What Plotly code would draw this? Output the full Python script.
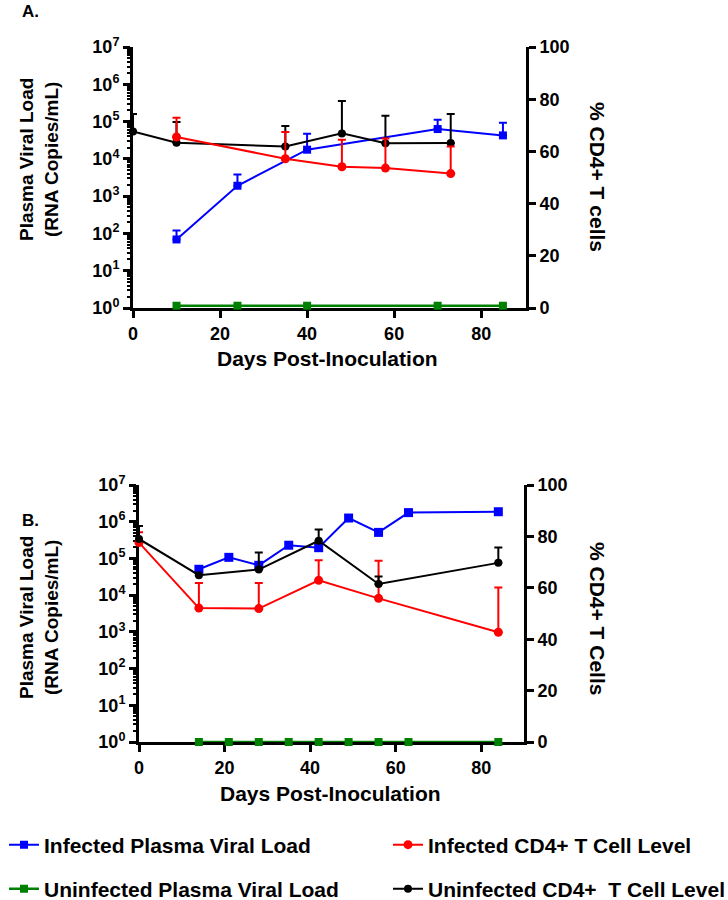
import plotly.graph_objects as go

# ---------------- Panel A data ----------------
a_vl_days = [10, 24, 40, 70, 85]
a_inf_vl = [69, 1900, 17600, 63000, 42600]
a_inf_vl_top = [120, 3800, 47000, 112000, 93000]
a_uninf_vl = [1.15, 1.15, 1.15, 1.15, 1.15]

a_inf_cd4_days = [10, 35, 48, 58, 73]
a_inf_cd4 = [65.5, 57.2, 54.1, 53.6, 51.5]
a_inf_cd4_top = [72.9, 67.4, 64.5, 64.9, 61.9]

a_uninf_cd4_days = [0, 10, 35, 48, 58, 73]
a_uninf_cd4 = [67.6, 63.3, 61.9, 66.9, 63.1, 63.2]
a_uninf_cd4_top = [74.3, 71.3, 69.7, 79.3, 73.7, 74.3]

# ---------------- Panel B data ----------------
b_vl_days = [14, 21, 28, 35, 42, 49, 56, 63, 84]
b_inf_vl = [50700, 107000, 65000, 229000, 196000, 1260000, 512000, 1770000, 1870000]
b_uninf_vl = [1, 1, 1, 1, 1, 1, 1, 1, 1]

b_cd4_days = [0, 14, 28, 42, 56, 84]
b_inf_cd4 = [77.6, 52.1, 51.9, 62.9, 55.9, 42.7]
b_inf_cd4_top = [81.6, 61.9, 61.9, 70.7, 70.5, 60.1]
b_uninf_cd4 = [79.0, 64.9, 67.1, 78.3, 61.5, 69.7]
b_uninf_cd4_top = [84.0, 64.9, 73.7, 82.7, 64.4, 75.7]

log_tickvals = [1, 10, 100, 1e3, 1e4, 1e5, 1e6, 1e7]
log_ticktext = ["10<sup>%d</sup>" % i for i in range(8)]
minor_vals = [m * 10 ** e for e in range(7) for m in range(2, 10)]
cd4_ticks = [0, 20, 40, 60, 80, 100]
day_ticks = [0, 20, 40, 60, 80]

BLUE = "#0000ff"
RED = "#ff0000"
GREEN = "#008000"
BLACK = "#000000"

FONT = "Liberation Sans, Arial, sans-serif"


def upper_err(vals, tops):
    return [t - v for v, t in zip(vals, tops)]


def errbar(color, vals, tops):
    return dict(type="data", symmetric=False, array=upper_err(vals, tops),
                arrayminus=[0] * len(vals), color=color, thickness=2, width=4)


fig = go.Figure()

# Panel A traces
fig.add_trace(go.Scatter(x=a_vl_days, y=a_uninf_vl, mode="lines+markers", name="Uninfected Plasma Viral Load",
                         line=dict(color=GREEN, width=2.5), marker=dict(symbol="square", size=8, color=GREEN),
                         xaxis="x", yaxis="y", cliponaxis=False, legend="legend3"))
fig.add_trace(go.Scatter(x=a_vl_days, y=a_inf_vl, mode="lines+markers", name="Infected Plasma Viral Load",
                         line=dict(color=BLUE, width=2), marker=dict(symbol="square", size=8, color=BLUE),
                         error_y=errbar(BLUE, a_inf_vl, a_inf_vl_top),
                         xaxis="x", yaxis="y", cliponaxis=False, legend="legend"))
fig.add_trace(go.Scatter(x=a_uninf_cd4_days, y=a_uninf_cd4, mode="lines+markers", name="Uninfected CD4+  T Cell Level",
                         line=dict(color=BLACK, width=2), marker=dict(symbol="circle", size=8, color=BLACK),
                         error_y=errbar(BLACK, a_uninf_cd4, a_uninf_cd4_top),
                         xaxis="x", yaxis="y2", cliponaxis=False, legend="legend4"))
fig.add_trace(go.Scatter(x=a_inf_cd4_days, y=a_inf_cd4, mode="lines+markers", name="Infected CD4+ T Cell Level",
                         line=dict(color=RED, width=2), marker=dict(symbol="circle", size=9, color=RED),
                         error_y=errbar(RED, a_inf_cd4, a_inf_cd4_top),
                         xaxis="x", yaxis="y2", cliponaxis=False, legend="legend2"))

# Panel B traces
fig.add_trace(go.Scatter(x=b_vl_days, y=b_uninf_vl, mode="lines+markers", showlegend=False,
                         line=dict(color=GREEN, width=2.5), marker=dict(symbol="square", size=8, color=GREEN),
                         xaxis="x2", yaxis="y3", cliponaxis=False))
fig.add_trace(go.Scatter(x=b_vl_days, y=b_inf_vl, mode="lines+markers", showlegend=False,
                         line=dict(color=BLUE, width=2), marker=dict(symbol="square", size=9, color=BLUE),
                         xaxis="x2", yaxis="y3", cliponaxis=False))
fig.add_trace(go.Scatter(x=b_cd4_days, y=b_inf_cd4, mode="lines+markers", showlegend=False,
                         line=dict(color=RED, width=2), marker=dict(symbol="circle", size=9, color=RED),
                         error_y=errbar(RED, b_inf_cd4, b_inf_cd4_top),
                         xaxis="x2", yaxis="y4", cliponaxis=False))
fig.add_trace(go.Scatter(x=b_cd4_days, y=b_uninf_cd4, mode="lines+markers", showlegend=False,
                         line=dict(color=BLACK, width=2), marker=dict(symbol="circle", size=8, color=BLACK),
                         error_y=errbar(BLACK, b_uninf_cd4, b_uninf_cd4_top),
                         xaxis="x2", yaxis="y4", cliponaxis=False))

W, H = 728, 900
tick_font = dict(family=FONT, size=18, color="black", weight="bold")


def xax(domain, rng, anchor):
    return dict(domain=domain, range=rng, anchor=anchor, tickmode="array", tickvals=day_ticks,
                ticks="outside", ticklen=7, tickwidth=2.5, tickcolor="black", showline=True, linewidth=3,
                linecolor="black", showgrid=False, zeroline=False, tickfont=tick_font, layer="below traces",
                automargin=False)


def ylog(domain, anchor):
    return dict(domain=domain, type="log", range=[0, 7], anchor=anchor, tickmode="array",
                tickvals=log_tickvals, ticktext=log_ticktext, ticks="outside", ticklen=7, tickwidth=2.5,
                tickcolor="black", showline=True, linewidth=3, linecolor="black", showgrid=False,
                zeroline=False, tickfont=tick_font, layer="below traces", automargin=False,
                minor=dict(tickmode="array", tickvals=minor_vals, ticks="outside", ticklen=3,
                           tickwidth=1.5, tickcolor="black", showgrid=False))


def ylin(overlay, anchor):
    return dict(overlaying=overlay, side="right", anchor=anchor, range=[0, 100], tickmode="array",
                tickvals=cd4_ticks, ticks="outside", ticklen=7, tickwidth=2.5, tickcolor="black",
                showline=True, linewidth=3, linecolor="black", showgrid=False, zeroline=False,
                tickfont=tick_font, layer="below traces", automargin=False)


ya = [1 - 308 / H, 1 - 47 / H]
yb = [1 - 742 / H, 1 - 485 / H]

legend_font = dict(family=FONT, size=21, weight="bold", color="black")


def leg(xpx, ypx):
    return dict(orientation="v", x=xpx / W, xanchor="left", y=1 - ypx / H, yanchor="middle",
                font=legend_font, bgcolor="rgba(0,0,0,0)", itemwidth=30, borderwidth=0)


fig.update_layout(
    template="none",
    width=W, height=H, margin=dict(l=0, r=0, t=0, b=0, pad=0, autoexpand=False),
    paper_bgcolor="white", plot_bgcolor="white",
    font=dict(family=FONT, color="black", weight="bold"),
    xaxis=xax([133 / W, 526 / W], [0, 90.3], "y"),
    yaxis=ylog(ya, "x"),
    yaxis2=ylin("y", "x"),
    xaxis2=xax([139 / W, 524 / W], [0, 90], "y3"),
    yaxis3=ylog(yb, "x2"),
    yaxis4=ylin("y3", "x2"),
    legend=leg(4, 845),
    legend2=leg(388, 845),
    legend3=leg(4, 889),
    legend4=leg(388, 889),
)

annotations = [
    dict(text="A.", x=20 / W, y=1 - 12 / H),
    dict(text="B.", x=20 / W, y=1 - 520 / H),
]
for a in annotations:
    a.update(xref="paper", yref="paper", showarrow=False, xanchor="left", yanchor="middle",
             font=dict(family=FONT, size=17, weight="bold", color="black"))

titles = [
    dict(text="Plasma Viral Load<br>(RNA Copies/mL)", x=39 / W, y=1 - 160 / H, textangle=-90, size=19),
    dict(text="% CD4+ T cells", x=598 / W, y=1 - 177 / H, textangle=90, size=21),
    dict(text="Days Post-Inoculation", x=327 / W, y=1 - 358 / H, textangle=0, size=21),
    dict(text="Plasma Viral Load<br>(RNA Copies/mL)", x=39 / W, y=1 - 618 / H, textangle=-90, size=19),
    dict(text="% CD4+ T Cells", x=598 / W, y=1 - 618 / H, textangle=90, size=21),
    dict(text="Days Post-Inoculation", x=330 / W, y=1 - 793 / H, textangle=0, size=21),
]
for t in titles:
    sz = t.pop("size")
    t.update(xref="paper", yref="paper", showarrow=False, xanchor="center", yanchor="middle",
             font=dict(family=FONT, size=sz, weight="bold", color="black"))

fig.update_layout(annotations=annotations + titles)

fig.write_html("out.html", config={"displayModeBar": False},
               post_script="document.body.style.margin='0px';document.body.style.padding='0px';")
